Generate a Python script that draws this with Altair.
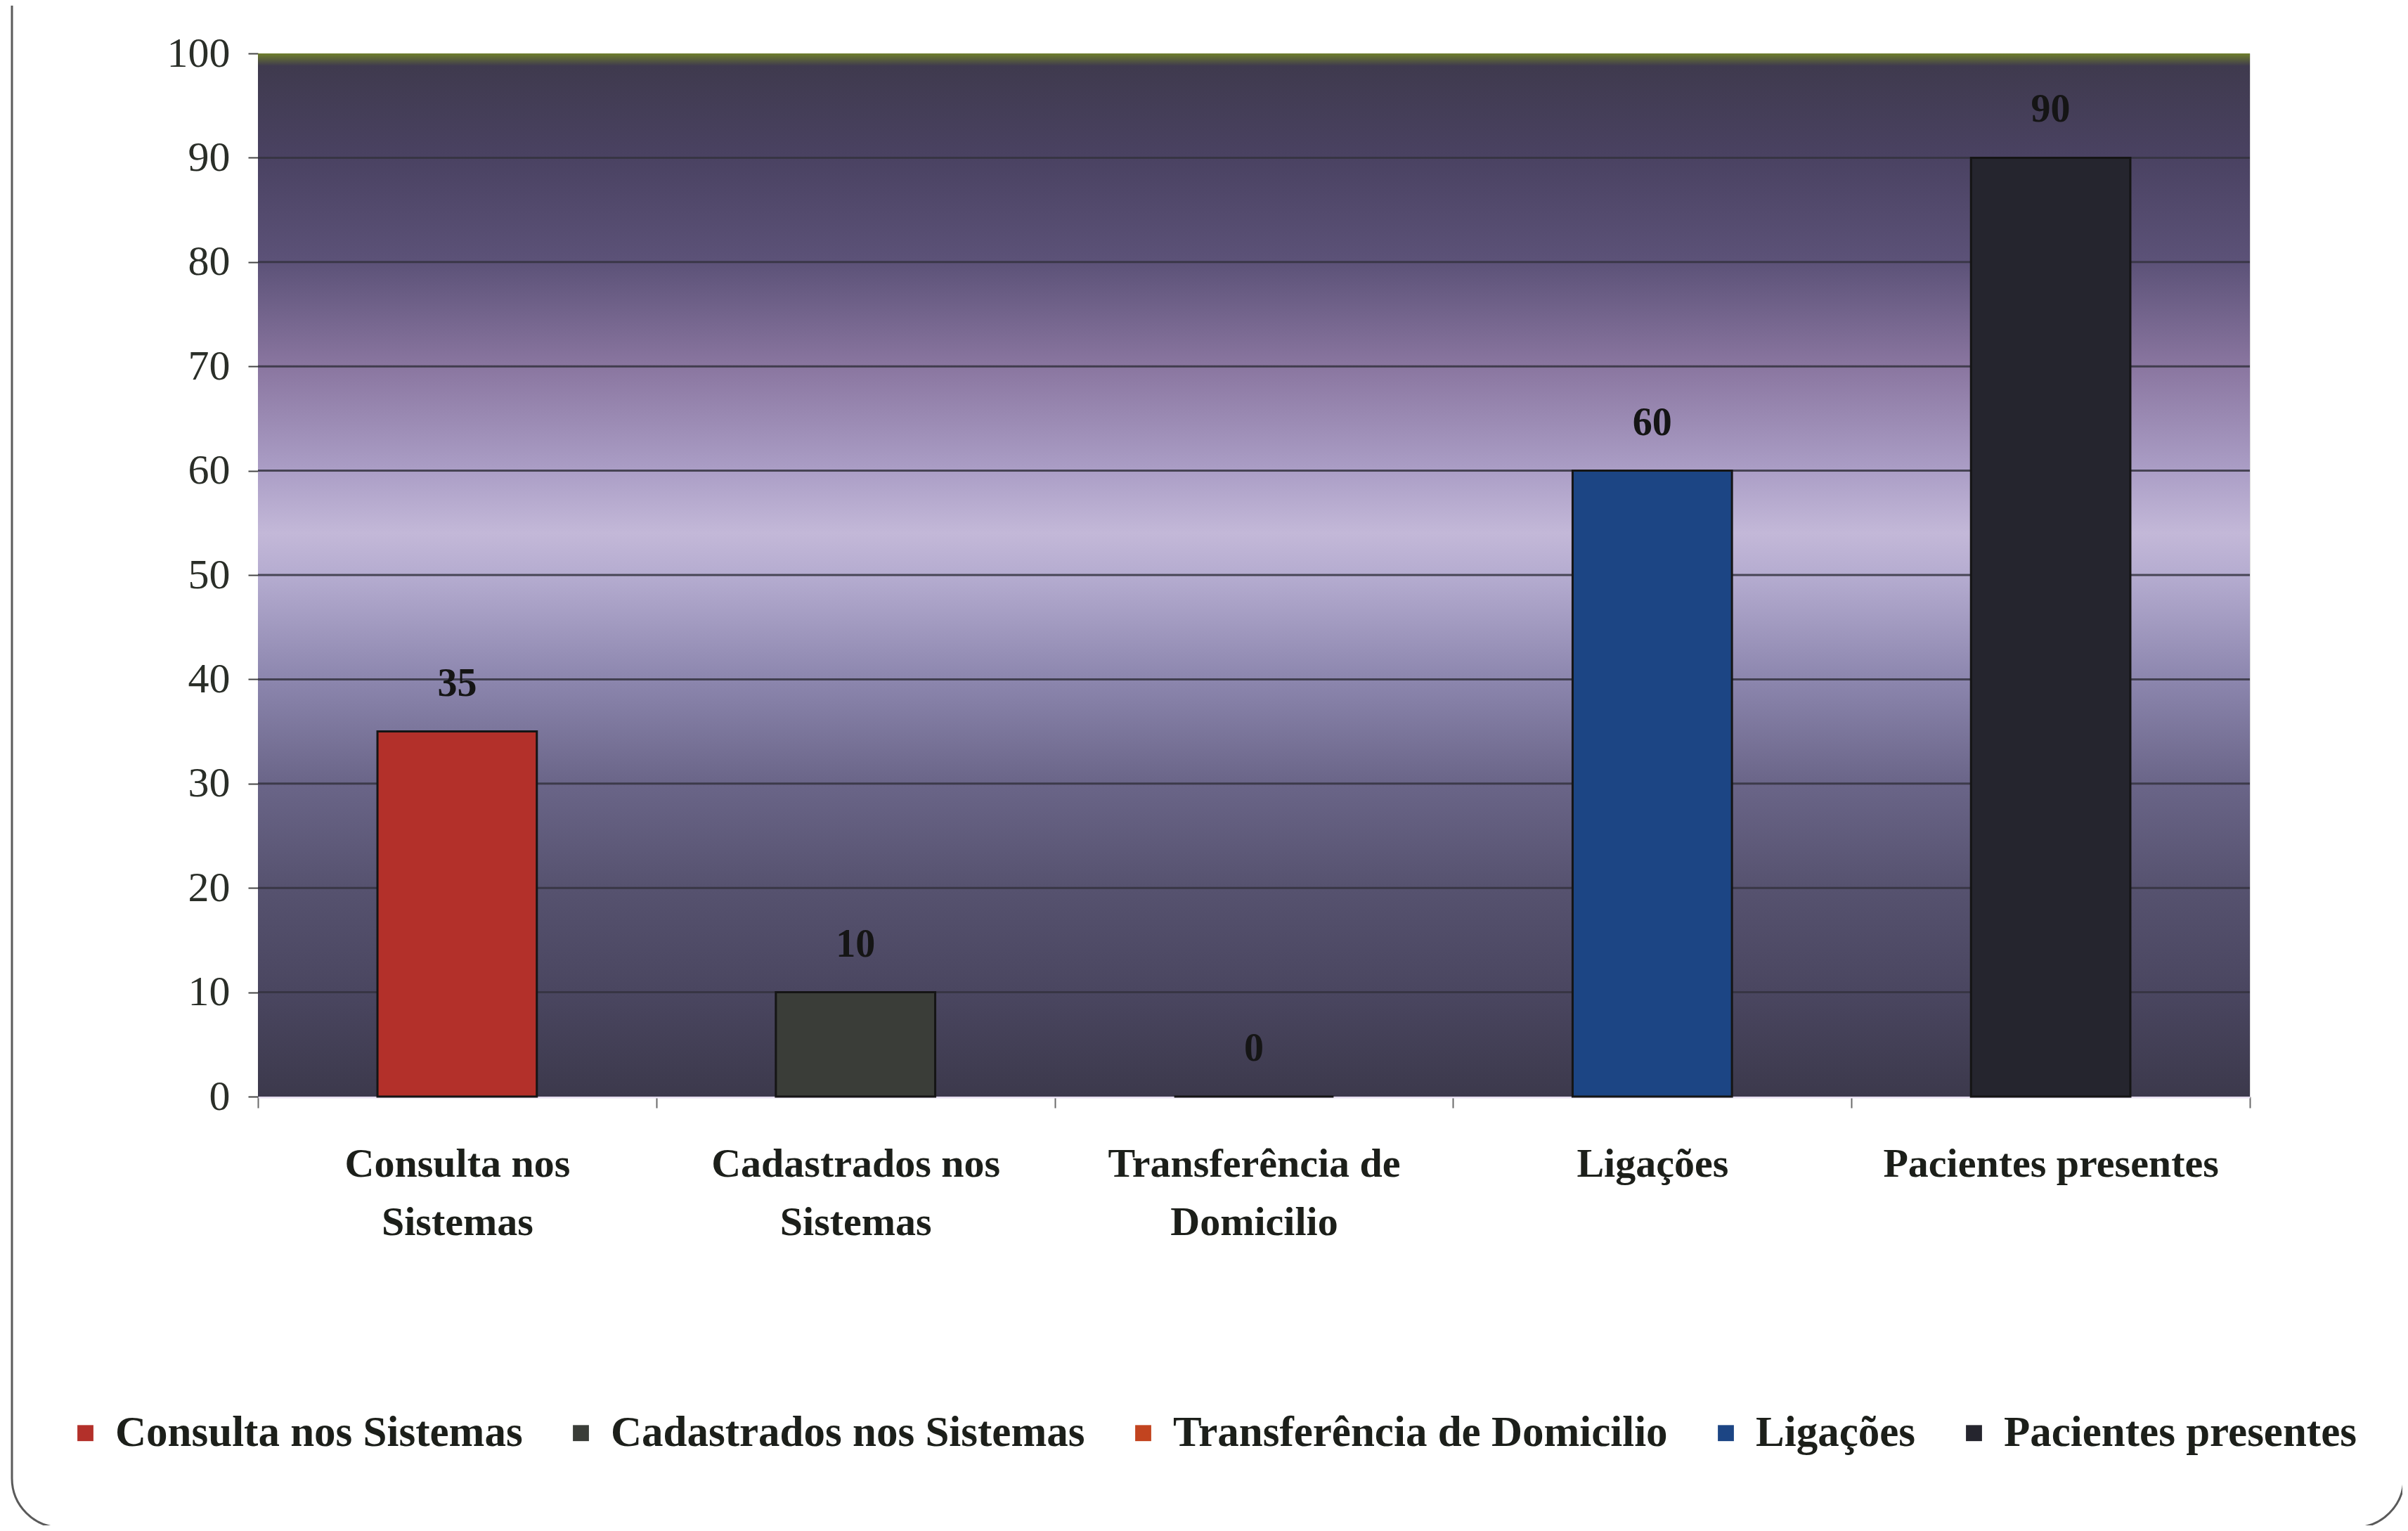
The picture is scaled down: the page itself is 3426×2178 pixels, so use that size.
import altair as alt
import pandas as pd

categories = ["Consulta nos Sistemas", "Cadastrados nos Sistemas", "Transferência de Domicilio", "Ligações", "Pacientes presentes"]
wrapped = [["Consulta nos", "Sistemas"], ["Cadastrados nos", "Sistemas"], ["Transferência de", "Domicilio"], ["Ligações"], ["Pacientes presentes"]]
values = [35, 10, 0, 60, 90]
bar_colors = ["#b3302a", "#3a3d38", "#c2441f", "#1c4584", "#25252e"]
y_ticks = [0, 10, 20, 30, 40, 50, 60, 70, 80, 90, 100]
grid_values = [10, 20, 30, 40, 50, 60, 70, 80, 90]

W, H = 2834, 1484
FONT = "Liberation Serif"

df = pd.DataFrame({"cat": categories, "val": values})
grid_df = pd.DataFrame({"g": grid_values})

# label expression for multi-line x labels
parts = []
for c, w in zip(categories, wrapped):
    arr = "[" + ",".join("'" + s + "'" for s in w) + "]"
    parts.append(f"datum.value == '{c}' ? {arr} : ")
label_expr = "".join(parts) + "datum.label"

x_enc = alt.X("cat:N", sort=categories, title=None,
              scale=alt.Scale(paddingInner=0, paddingOuter=0),
              axis=alt.Axis(labelExpr=label_expr, labelAngle=0, labelFont=FONT,
                            labelFontSize=58, labelFontWeight="bold", labelColor="#1c1f1a",
                            labelLineHeight=83, labelPadding=51, labelLimit=2000, tickBand="extent",
                            tickSize=16, tickColor="#6a6a6a", tickWidth=2,
                            domainColor="#e6def0", domainWidth=4, grid=False))
y_scale = alt.Scale(domain=[0, 100], nice=False)

bg_gradient = alt.Gradient(
    gradient="linear", x1=0, x2=0, y1=0, y2=1,
    stops=[
        alt.GradientStop(offset=0.0, color="#6f7f2c"),
        alt.GradientStop(offset=0.012, color="#3f3a4e"),
        alt.GradientStop(offset=0.1, color="#4a4262"),
        alt.GradientStop(offset=0.2, color="#5c5278"),
        alt.GradientStop(offset=0.3, color="#8a76a0"),
        alt.GradientStop(offset=0.4, color="#ab9ec6"),
        alt.GradientStop(offset=0.46, color="#c3b8d8"),
        alt.GradientStop(offset=0.5, color="#b5acd0"),
        alt.GradientStop(offset=0.6, color="#8c86ae"),
        alt.GradientStop(offset=0.7, color="#6a6588"),
        alt.GradientStop(offset=0.8, color="#56526f"),
        alt.GradientStop(offset=0.9, color="#4a4660"),
        alt.GradientStop(offset=1.0, color="#3c394c"),
    ],
)

background = alt.Chart(alt.Data(values=[{"a": 1}])).mark_rect(fill=bg_gradient, strokeWidth=0).encode(
    x=alt.value(0), x2=alt.value(W), y=alt.value(0), y2=alt.value(H)
)

grid = alt.Chart(grid_df).mark_rule(color="#34323f", strokeWidth=3, opacity=0.85).encode(
    y=alt.Y("g:Q", scale=y_scale), x=alt.value(0), x2=alt.value(W)
)

bars = alt.Chart(df).mark_bar(stroke="#151515", strokeWidth=3, width=alt.RelativeBandSize(0.4)).encode(
    x=x_enc,
    y=alt.Y("val:Q", scale=y_scale, title=None,
            axis=alt.Axis(values=y_ticks, labelFont=FONT, labelFontSize=60, labelColor="#2a2e28",
                          labelPadding=26, tickSize=14, tickColor="#444444", tickWidth=2,
                          domain=False, grid=False)),
    color=alt.Color("cat:N", sort=categories,
                    scale=alt.Scale(domain=categories, range=bar_colors),
                    legend=alt.Legend(title=None, orient="none", direction="horizontal",
                                      legendX=-276, legendY=1932, symbolType="square",
                                      symbolSize=520, symbolStrokeWidth=0, symbolOpacity=1,
                                      labelFont=FONT, labelFontSize=61, labelFontWeight="bold",
                                      labelColor="#1c1f1a", columnPadding=52, symbolOffset=0,
                                      labelOffset=12, labelLimit=2000)),
)

labels = alt.Chart(df).mark_text(dy=-68, font=FONT, fontSize=56, fontWeight="bold",
                                 color="#151515", baseline="middle").encode(
    x=alt.X("cat:N", sort=categories),
    y=alt.Y("val:Q", scale=y_scale),
    text=alt.Text("val:Q"),
)

frame = alt.Chart(alt.Data(values=[{"a": 1}])).mark_rect(
    fill=None, stroke="#5a5a5a", strokeWidth=3, cornerRadius=70
).encode(x=alt.value(-350), x2=alt.value(3053), y=alt.value(-200), y2=alt.value(2097))

chart = alt.layer(background, grid, bars, labels, frame).properties(
    width=W, height=H,
    autosize=alt.AutoSizeParams(type="none"),
    padding={"left": 359, "top": 68, "right": 217, "bottom": 610},
).configure_view(strokeWidth=0).configure(background="#ffffff")

chart.save("out.html", embed_options={"renderer": "svg", "actions": False})
